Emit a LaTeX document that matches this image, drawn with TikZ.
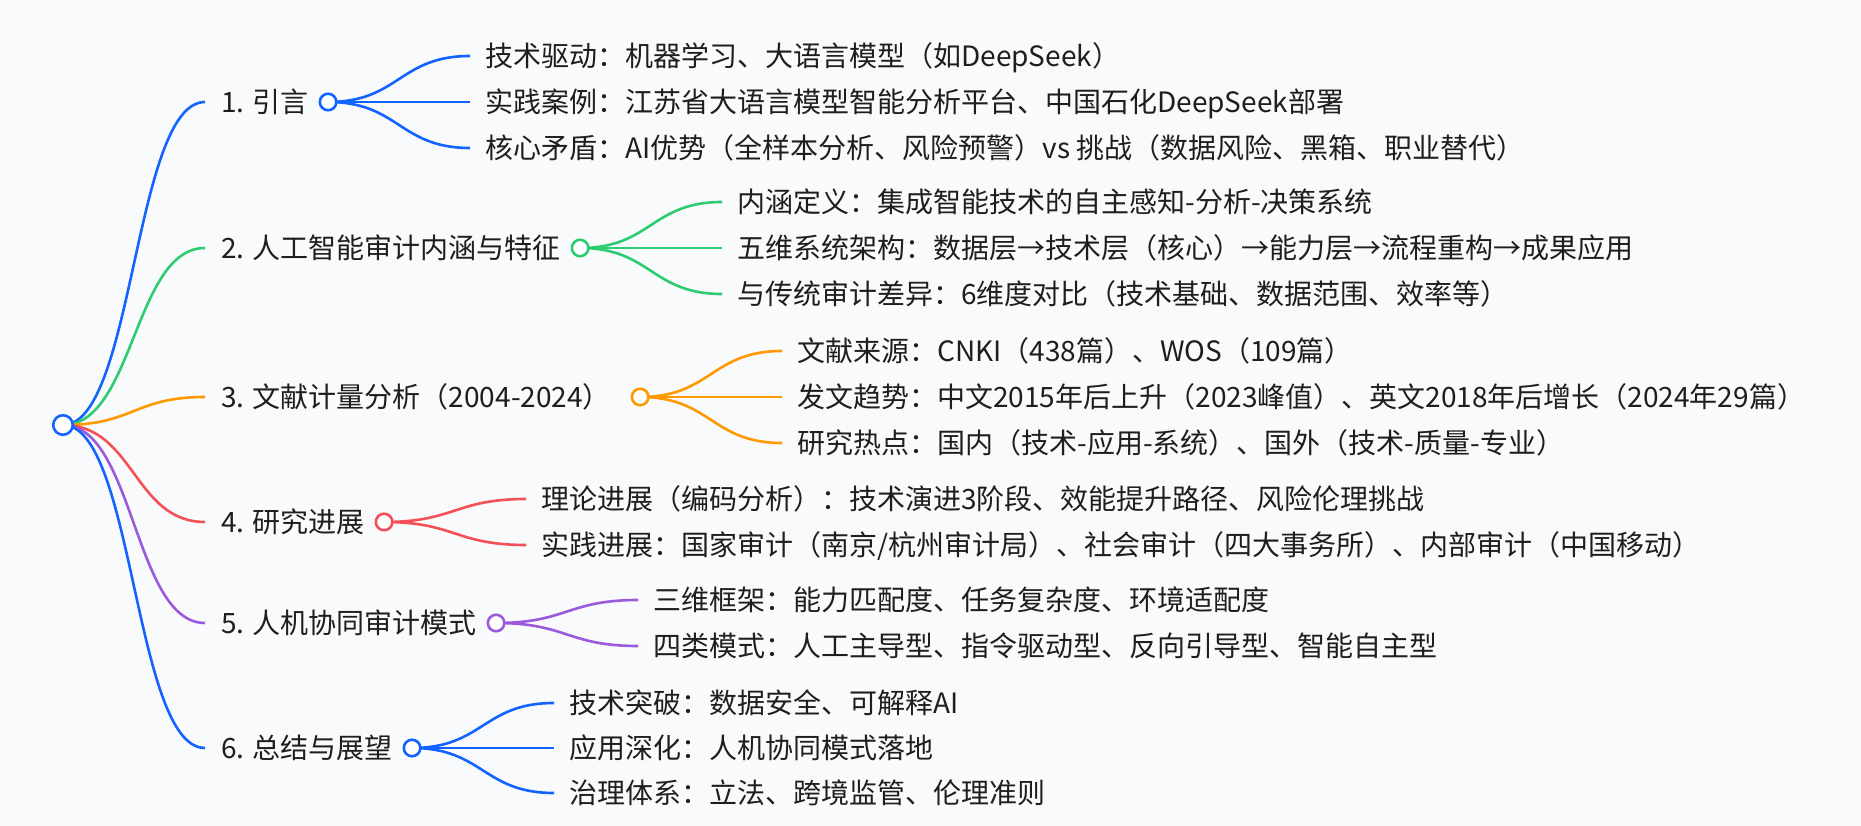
\documentclass[tikz,border=0pt]{standalone}
\usepackage{fontspec}
\newfontfamily\cjk{Noto Sans CJK SC}
\usetikzlibrary{calc}
\definecolor{BgClr}{RGB}{248,250,252}
\definecolor{TxtClr}{RGB}{30,30,30}
\definecolor{BlueClr}{RGB}{18,99,255}
\definecolor{GreenClr}{RGB}{46,204,113}
\definecolor{OrangeClr}{RGB}{255,153,0}
\definecolor{RedClr}{RGB}{245,80,85}
\definecolor{PurpleClr}{RGB}{155,89,220}
\pgfdeclarelayer{bg}
\pgfdeclarelayer{links}
\pgfsetlayers{bg,links,main}

\begin{document}
\begin{tikzpicture}[x=1pt,y=-1pt,
  topic/.style={anchor=west,inner xsep=16pt,inner ysep=0pt,text=TxtClr,
    text height=25pt,text depth=4pt,font=\cjk\fontsize{28}{34}\selectfont},
  leaf/.style={topic,inner xsep=15pt},
  dot/.style={circle,draw=#1,fill=white,line width=2.6pt,minimum size=16.5pt,inner sep=0pt},
  hub/.style={dot=#1,minimum size=19.5pt},
  branch/.style={draw=#1,line width=2.6pt,
    to path={let \p1=(\tikztostart),\p2=(\tikztotarget) in
      .. controls ({(\x1+\x2)/2},\y1) and ({(\x1+\x2)/2},\y2) .. (\tikztotarget)}}]
\useasboundingbox (0,0) rectangle (1861,826);

\node[hub=BlueClr] (root) at (63,425) {};

% 1
\node[topic] (s1) at (205,102) {1. 引言};
\node[dot=BlueClr] (d1) at ([xshift=3pt]s1.east) {};
\node[leaf] (s1a) at ([shift={(142,-46)}]d1.center) {技术驱动：机器学习、大语言模型（如DeepSeek）};
\node[leaf] (s1b) at ([shift={(142,0)}]d1.center) {实践案例：江苏省大语言模型智能分析平台、中国石化DeepSeek部署};
\node[leaf] (s1c) at ([shift={(142,46)}]d1.center) {核心矛盾：AI优势（全样本分析、风险预警）vs 挑战（数据风险、黑箱、职业替代）};

% 2
\node[topic] (s2) at (205,248) {2. 人工智能审计内涵与特征};
\node[dot=GreenClr] (d2) at ([xshift=3pt]s2.east) {};
\node[leaf] (s2a) at ([shift={(142,-46)}]d2.center) {内涵定义：集成智能技术的自主感知-分析-决策系统};
\node[leaf] (s2b) at ([shift={(142,0)}]d2.center) {五维系统架构：数据层→技术层（核心）→能力层→流程重构→成果应用};
\node[leaf] (s2c) at ([shift={(142,46)}]d2.center) {与传统审计差异：6维度对比（技术基础、数据范围、效率等）};

% 3
\node[topic] (s3) at (205,397) {3. 文献计量分析（2004-2024）};
\node[dot=OrangeClr] (d3) at ([xshift=13pt]s3.east) {};
\node[leaf] (s3a) at ([shift={(142,-46)}]d3.center) {文献来源：CNKI（438篇）、WOS（109篇）};
\node[leaf] (s3b) at ([shift={(142,0)}]d3.center) {发文趋势：中文2015年后上升（2023峰值）、英文2018年后增长（2024年29篇）};
\node[leaf] (s3c) at ([shift={(142,46)}]d3.center) {研究热点：国内（技术-应用-系统）、国外（技术-质量-专业）};

% 4
\node[topic] (s4) at (205,522) {4. 研究进展};
\node[dot=RedClr] (d4) at ([xshift=3pt]s4.east) {};
\node[leaf] (s4a) at ([shift={(142,-23)}]d4.center) {理论进展（编码分析）：技术演进3阶段、效能提升路径、风险伦理挑战};
\node[leaf] (s4b) at ([shift={(142,23)}]d4.center) {实践进展：国家审计（南京/杭州审计局）、社会审计（四大事务所）、内部审计（中国移动）};

% 5
\node[topic] (s5) at (205,623) {5. 人机协同审计模式};
\node[dot=PurpleClr] (d5) at ([xshift=3pt]s5.east) {};
\node[leaf] (s5a) at ([shift={(142,-23)}]d5.center) {三维框架：能力匹配度、任务复杂度、环境适配度};
\node[leaf] (s5b) at ([shift={(142,23)}]d5.center) {四类模式：人工主导型、指令驱动型、反向引导型、智能自主型};

% 6
\node[topic] (s6) at (205,748) {6. 总结与展望};
\node[dot=BlueClr] (d6) at ([xshift=3pt]s6.east) {};
\node[leaf] (s6a) at ([shift={(142,-45)}]d6.center) {技术突破：数据安全、可解释AI};
\node[leaf] (s6b) at ([shift={(142,0)}]d6.center) {应用深化：人机协同模式落地};
\node[leaf] (s6c) at ([shift={(142,45)}]d6.center) {治理体系：立法、跨境监管、伦理准则};

\begin{pgfonlayer}{bg}
\fill[BgClr] (0,0) rectangle (1861,826);
\end{pgfonlayer}

\begin{pgfonlayer}{links}
\draw[branch=BlueClr] (root.center) to (s1.west);
\draw[branch=GreenClr] (root.center) to (s2.west);
\draw[branch=OrangeClr] (root.center) to (s3.west);
\draw[branch=RedClr] (root.center) to (s4.west);
\draw[branch=PurpleClr] (root.center) to (s5.west);
\draw[branch=BlueClr] (root.center) to (s6.west);
\foreach \k in {a,b,c} {
  \draw[branch=BlueClr] (d1.center) to (s1\k.west);
  \draw[branch=GreenClr] (d2.center) to (s2\k.west);
  \draw[branch=OrangeClr] (d3.center) to (s3\k.west);
  \draw[branch=BlueClr] (d6.center) to (s6\k.west);
}
\foreach \k in {a,b} {
  \draw[branch=RedClr] (d4.center) to (s4\k.west);
  \draw[branch=PurpleClr] (d5.center) to (s5\k.west);
}
\end{pgfonlayer}
\end{tikzpicture}
\end{document}
